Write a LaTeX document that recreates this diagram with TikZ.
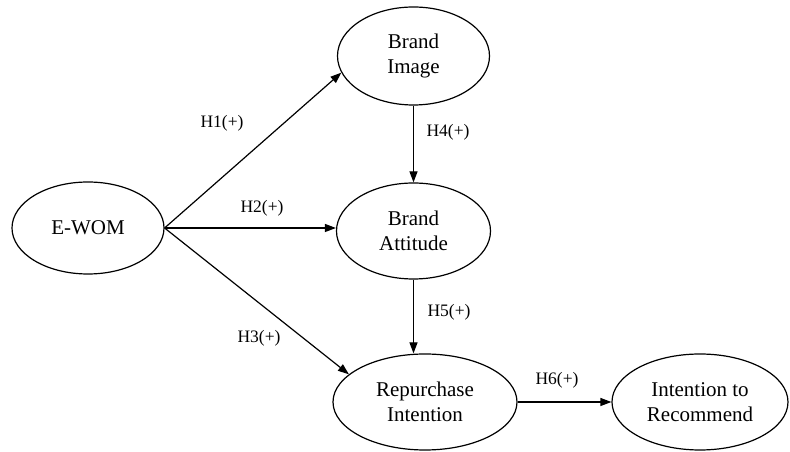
\documentclass[tikz,border=0pt]{standalone}
\usepackage{fontspec}
\setmainfont{Liberation Serif}
\usetikzlibrary{shapes.geometric,arrows.meta}
\begin{document}
\begin{tikzpicture}[x=1pt,y=1pt,
  construct/.style={draw,ellipse,line width=1.2pt,inner sep=0pt,align=center,
    font=\fontsize{21}{25}\selectfont},
  path/.style={line width=1.2pt,-{Triangle[length=11pt,width=8pt]}},
  hyp/.style={font=\fontsize{17.5}{20}\selectfont}]
\useasboundingbox (0,0) rectangle (790,452);
% constructs
\node[construct,minimum width=152pt,minimum height=92pt] (ewom) at (88,224) {E-WOM};
\node[construct,minimum width=152pt,minimum height=98pt] (bimg) at (413.5,396) {Brand\\Image};
\node[construct,minimum width=154pt,minimum height=96pt] (batt) at (413.5,221) {Brand\\Attitude};
\node[construct,minimum width=184pt,minimum height=96pt] (rep) at (425,50) {Repurchase\\Intention};
\node[construct,minimum width=176pt,minimum height=96pt] (itr) at (700,50) {Intention to\\Recommend};
% hypothesised paths
\draw[path] (ewom.east) -- (bimg.193);
\draw[path] (ewom.east) -- (ewom.east -| batt.west);
\draw[path] (ewom.east) -- (rep.160);
\draw[path] (bimg.south) -- (batt.north);
\draw[path] (batt.south) -- (batt.south |- rep.north);
\draw[path] (rep.east) -- (itr.west);
% path labels
\node[hyp] (h1) at (222,329) {H1(+)};
\node[hyp] (h2) at (262,244) {H2(+)};
\node[hyp] (h3) at (259,114) {H3(+)};
\node[hyp] (h4) at (448,320) {H4(+)};
\node[hyp] (h5) at (449,140) {H5(+)};
\node[hyp] (h6) at (557,72) {H6(+)};
\end{tikzpicture}
\end{document}
